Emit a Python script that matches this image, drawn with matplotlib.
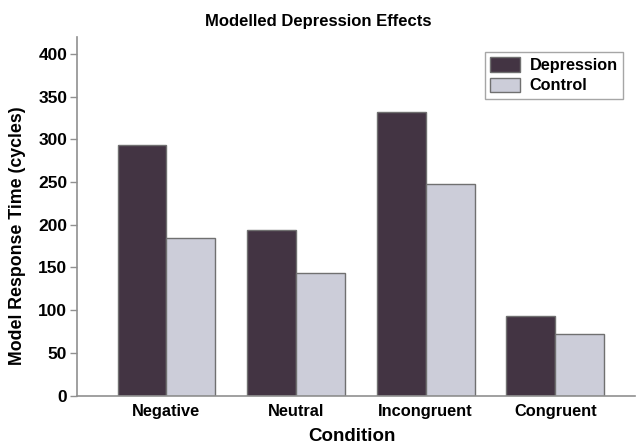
import numpy as np
import matplotlib.pyplot as plt

conditions = ['Negative', 'Neutral', 'Incongruent', 'Congruent']
depression = [293, 194, 332, 93]
control = [185, 144, 248, 72]
yticks = [0, 50, 100, 150, 200, 250, 300, 350, 400]

plt.rcParams['font.family'] = ['Liberation Sans', 'DejaVu Sans']
plt.rcParams['font.weight'] = 'bold'

fig = plt.figure(figsize=(6.37, 4.44), dpi=100, facecolor='w')
ax = fig.add_axes([77/637, 1 - 395.5/444, (635 - 77)/637, (395.5 - 37)/444])

x = np.arange(len(conditions))
w = 0.377
ax.bar(x - w/2, depression, w, color='#433443', edgecolor='#707070', lw=1.0, label='Depression')
ax.bar(x + w/2, control, w, color='#cccdd9', edgecolor='#707070', lw=1.0, label='Control')

ax.set_xlim(-0.69, 3.615)
ax.set_ylim(0, 420)
ax.set_xticks(x)
ax.set_xticklabels(conditions, fontsize=11.8, fontweight='bold')
ax.set_yticks(yticks)
ax.set_yticklabels([str(v) for v in yticks], fontsize=12.5, fontweight='bold')
ax.tick_params(axis='x', length=0, pad=6)
ax.tick_params(axis='y', length=5, width=1, color='#909090', pad=2)

for s in ['top', 'right']:
    ax.spines[s].set_visible(False)
for s in ['left', 'bottom']:
    ax.spines[s].set_color('#909090')
    ax.spines[s].set_linewidth(1.2)

ax.set_xlabel('Condition', fontsize=13.5, fontweight='bold')
ax.xaxis.set_label_coords(0.492, -0.113)
ax.xaxis.label.set_va('center')
ax.set_ylabel('Model Response Time (cycles)', fontsize=12.8, fontweight='bold')
ax.yaxis.set_label_coords(-0.106, 0.445)
ax.yaxis.label.set_va('center')
fig.text(0.5, 1 - 21.5/444, 'Modelled Depression Effects',
         ha='center', va='center', fontsize=12, fontweight='bold')

lg = ax.legend(loc='upper right', bbox_to_anchor=(0.9785, 0.958), borderaxespad=0,
               fontsize=11.7, frameon=True, fancybox=False, edgecolor='#909090',
               handlelength=1.85, handleheight=1.0, borderpad=0.32,
               labelspacing=0.28, handletextpad=0.6)
lg.get_frame().set_linewidth(1.0)
for t in lg.get_texts():
    t.set_fontweight('bold')

plt.savefig('out.png', dpi=100)
